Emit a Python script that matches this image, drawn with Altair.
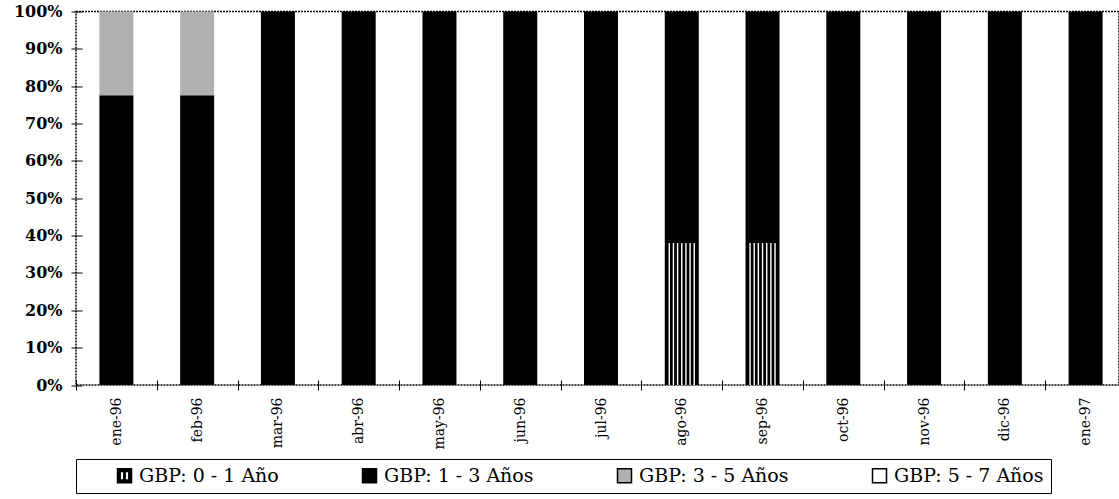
import altair as alt
import pandas as pd

meses = ["ene-96", "feb-96", "mar-96", "abr-96", "may-96", "jun-96", "jul-96",
         "ago-96", "sep-96", "oct-96", "nov-96", "dic-96", "ene-97"]
series = ["GBP: 0 - 1 Año", "GBP: 1 - 3 Años", "GBP: 3 - 5 Años", "GBP: 5 - 7 Años"]
gbp_0_1 = [0, 0, 0, 0, 0, 0, 0, 0.38, 0.38, 0, 0, 0, 0]
gbp_1_3 = [0.776, 0.776, 1, 1, 1, 1, 1, 0.62, 0.62, 1, 1, 1, 1]
gbp_3_5 = [0.224, 0.224, 0, 0, 0, 0, 0, 0, 0, 0, 0, 0, 0]
gbp_5_7 = [0, 0, 0, 0, 0, 0, 0, 0, 0, 0, 0, 0, 0]
y_ticks = [0, 0.1, 0.2, 0.3, 0.4, 0.5, 0.6, 0.7, 0.8, 0.9, 1.0]

rows = []
for i, vals in enumerate([gbp_0_1, gbp_1_3, gbp_3_5, gbp_5_7]):
    for m, v in zip(meses, vals):
        rows.append({"Mes": m, "Serie": series[i], "orden": i, "valor": v})
df = pd.DataFrame(rows)
df01 = df[(df["Serie"] == series[0]) & (df["valor"] > 0)]

stripes_path = ("M-1,-1H1V1H-1Z "
                "M-0.62,-0.62V0.62H-0.1V-0.62Z "
                "M0.1,-0.62V0.62H0.62V-0.62Z")

color_scale = alt.Scale(domain=series, range=["black", "black", "#b0b0b0", "white"])
shape_scale = alt.Scale(domain=series, range=[stripes_path, "square", "square", "square"])

legend = alt.Legend(
    orient="none", legendX=0, legendY=447.5, direction="horizontal", columns=4,
    title=" ", titleOrient="left", titleFontSize=8, titlePadding=32,
    padding=7, strokeColor="black", columnPadding=80,
    labelFont="DejaVu Serif", labelFontSize=19, labelColor="black", labelOffset=5,
    labelLimit=300, symbolSize=196, symbolStrokeColor="black", symbolStrokeWidth=1.5,
)

x_scale = alt.Scale(domain=meses, range=[0, 1050], paddingInner=0, paddingOuter=0)
x_axis = alt.Axis(labelAngle=-90, tickBand="extent", domain=False, offset=-5,
                  tickSize=10, labelPadding=7, labelFont="DejaVu Serif",
                  labelFontSize=14, labelColor="black", tickColor="black", title=None)
y_scale = alt.Scale(domain=[0, 1], nice=False)
y_axis = alt.Axis(values=y_ticks, format=".0%", domain=False, offset=-6,
                  tickSize=11, labelPadding=9, grid=False, labelOverlap=False,
                  labelFont="DejaVu Serif", labelFontSize=16,
                  labelFontWeight="bold", labelColor="black",
                  tickColor="black", title=None)


def xe():
    return alt.X("Mes:N", sort=meses, scale=x_scale, axis=x_axis, title=None)


bars = alt.Chart(df).mark_bar(size=34).encode(
    x=xe(),
    y=alt.Y("valor:Q", stack="zero", scale=y_scale, axis=y_axis, title=None),
    color=alt.Color("Serie:N", scale=color_scale, legend=legend),
    order=alt.Order("orden:Q"),
)

stripe_offsets = [-12.5, -8.33, -4.17, 0, 4.17, 8.33, 12.5]
stripes = [
    alt.Chart(df01).mark_rule(color="white", strokeWidth=1.4, xOffset=o).encode(
        x=xe(),
        y=alt.Y("valor:Q", stack=None, scale=y_scale, axis=y_axis, title=None),
        y2=alt.datum(0),
    )
    for o in stripe_offsets
]

legend_layer = alt.Chart(df).mark_point(filled=True, opacity=1).encode(
    x=xe(),
    y=alt.Y("valor:Q", stack=None, scale=y_scale, axis=y_axis, title=None),
    color=alt.Color("Serie:N", scale=color_scale, legend=legend),
    shape=alt.Shape("Serie:N", scale=shape_scale, legend=legend),
).transform_filter("false")

chart = alt.layer(bars, *stripes, legend_layer).properties(
    width=1043, height=373.5,
    autosize=alt.AutoSizeParams(type="none"),
    padding={"left": 76, "top": 11.5, "right": 0, "bottom": 114},
    background="white",
).configure_view(
    stroke="black", strokeWidth=1.5, strokeDash=[2, 1]
)

chart.save("out.html", embed_options={"renderer": "svg", "actions": False})
